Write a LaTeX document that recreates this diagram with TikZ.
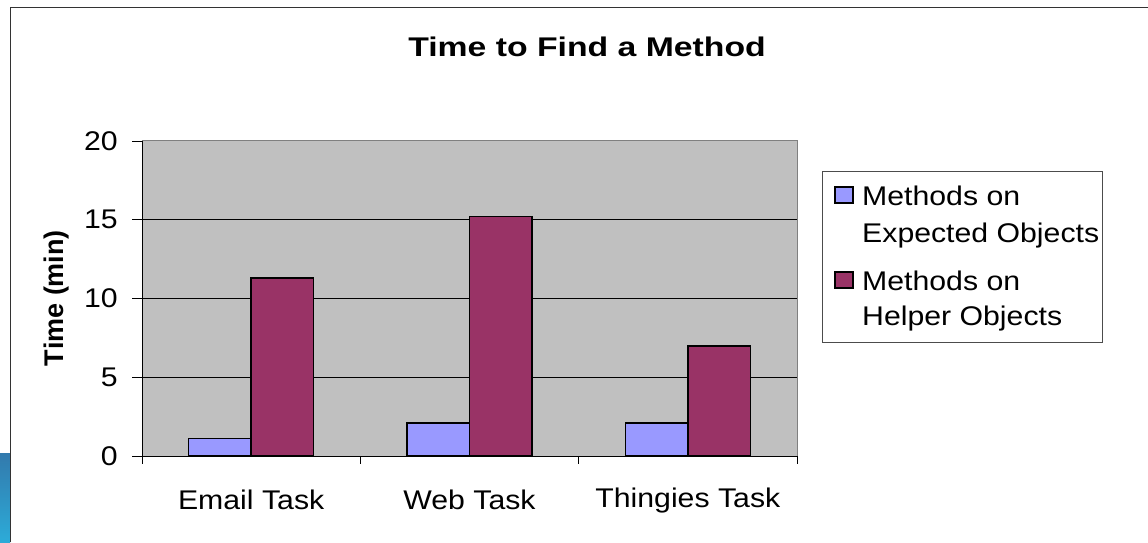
\documentclass[tikz,border=0pt]{standalone}
\usepackage{fontspec}
\setmainfont{Liberation Sans}
\usetikzlibrary{positioning}

\definecolor{plotgray}{HTML}{C0C0C0}
\definecolor{expblue}{HTML}{9999FF}
\definecolor{helpred}{HTML}{993366}
\definecolor{stripblue}{HTML}{3B8FCB}
\newcommand{\widetext}[1]{\scalebox{1.12}[1]{#1}}

\begin{document}
\begin{tikzpicture}[
    x=1pt, y=1pt,
    txt/.style={font=\fontsize{27}{32}\selectfont, inner sep=0pt},
    boldtxt/.style={font=\fontsize{27}{32}\selectfont\bfseries, inner sep=0pt},
    bar/.style={draw=black, line width=1.5pt},
    gridline/.style={draw=black, line width=0.8pt}
]
\useasboundingbox (0,0) rectangle (1148,542);

% slide strip and chart frame
\shade[top color=stripblue!85!black, bottom color=stripblue!75!cyan] (0,0) rectangle (10,89);
\draw[line width=1.5pt, draw=black!80] (10.5,0) |- (1148,534.5);

\node[boldtxt] (title) at (587,495) {\scalebox{1.25}[1]{Time to Find a Method}};
\node[boldtxt, rotate=90] (ylabel) at (57,244) {Time (min)};

% plot area, 15.75pt per minute
\begin{scope}[shift={(142,86)}, y=15.75pt]
\fill[plotgray] (0,0) rectangle (655,20);
\draw[black!50, line width=1pt] (0,20) -- (655,20) -- (655,0);
\foreach \v in {5,10,15}
    \draw[gridline] (0,\v) -- (655,\v);
\foreach \v in {0,5,...,20} {
    \draw[line width=0.8pt] (-10,\v) -- (0,\v);
    \node[txt, anchor=east] (tick\v) at (-24,\v) {\widetext{\v}};
}
\foreach \i/\a/\b/\name in {0/1.1/11.3/Email Task, 1/2.1/15.2/Web Task, 2/2.1/7.0/Thingies Task} {
    \pgfmathsetmacro\cx{218.33*\i+109.17}
    \draw[bar, fill=expblue] (\cx-62.5,0) rectangle (\cx,\a);
    \draw[bar, fill=helpred] (\cx,0) rectangle (\cx+62.5,\b);
    \node[txt] (cat\i) at (\cx,-2.8) {\widetext{\name}};
}
\draw[line width=1pt] (0,20) -- (0,0) -- (655,0);
\foreach \k in {0,...,3}
    \draw[line width=0.8pt] (218.33*\k,0) -- (218.33*\k,-0.5);
\end{scope}

% legend
\draw[draw=black!70, line width=1pt, fill=white] (822,200) rectangle (1102,371);
\draw[line width=1.2pt, fill=expblue] (835,339) rectangle (853,355);
\draw[line width=1.2pt, fill=helpred] (835,254) rectangle (853,270);
\node[txt, anchor=base west] (leg1a) at (862,337) {\widetext{Methods on}};
\node[txt, anchor=base west] (leg1b) at (862,300) {\widetext{Expected Objects}};
\node[txt, anchor=base west] (leg2a) at (862,252) {\widetext{Methods on}};
\node[txt, anchor=base west] (leg2b) at (862,217) {\widetext{Helper Objects}};
\end{tikzpicture}
\end{document}
